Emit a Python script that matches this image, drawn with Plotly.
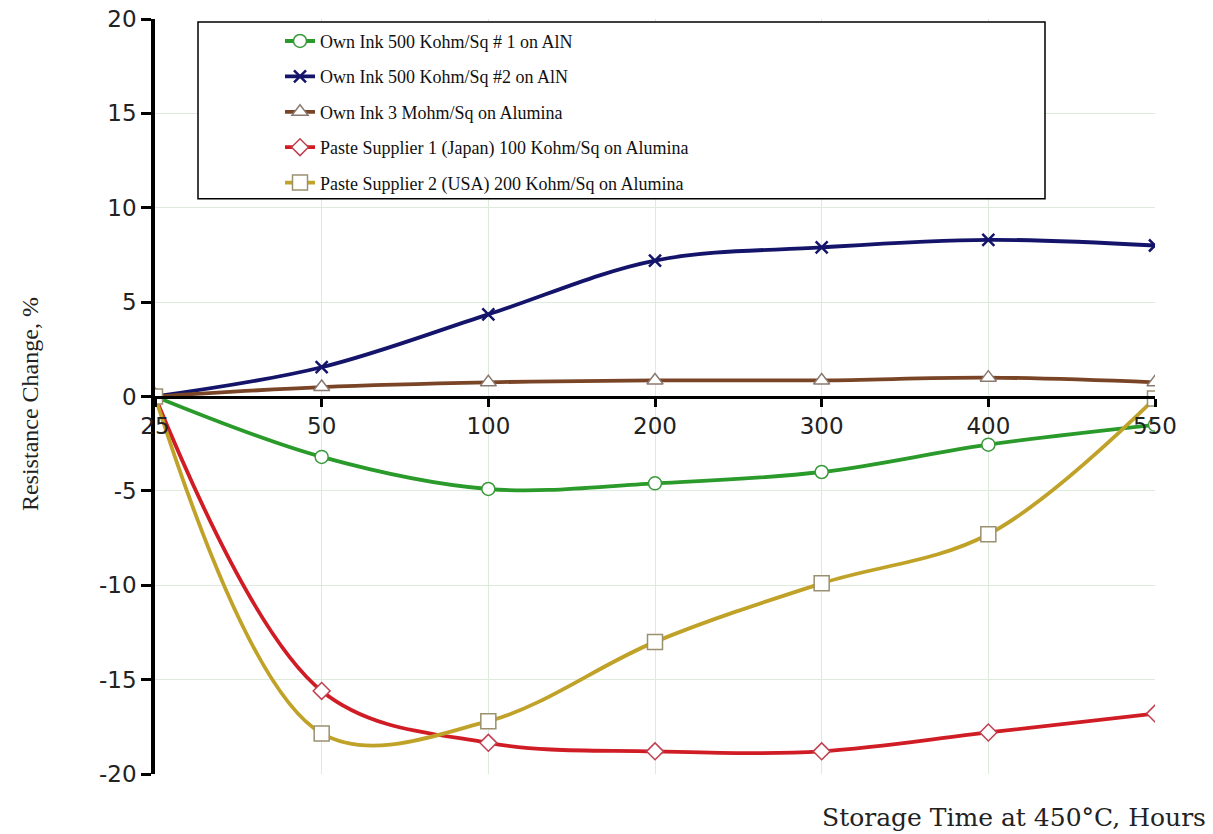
import plotly.graph_objects as go

hours = ["25", "50", "100", "200", "300", "400", "550"]
own1 = [0, -3.2, -4.9, -4.6, -4.0, -2.55, -1.5]
own2 = [0, 1.55, 4.35, 7.2, 7.9, 8.3, 8.0]
own3 = [0, 0.5, 0.75, 0.85, 0.85, 1.0, 0.75]
sup1 = [0, -15.6, -18.35, -18.8, -18.8, -17.8, -16.8]
sup2 = [0, -17.85, -17.2, -13.0, -9.9, -7.3, -0.1]

y_ticks = [-20, -15, -10, -5, 0, 5, 10, 15, 20]
y_tick_text = ["-20", "-15", "-10", "-5", "0", "5", "10", "15", "20"]

names = [
    "Own Ink 500 Kohm/Sq # 1 on AlN",
    "Own Ink 500 Kohm/Sq #2 on AlN",
    "Own Ink 3 Mohm/Sq on Alumina",
    "Paste Supplier 1 (Japan) 100 Kohm/Sq on Alumina",
    "Paste Supplier 2 (USA) 200 Kohm/Sq on Alumina",
]
series = [own1, own2, own3, sup1, sup2]
line_colors = ["#2a9a2a", "#14146a", "#7a4526", "#d01c24", "#c0a228"]
marker_lines = ["#3a9a3a", "#14146a", "#8a7a70", "#c04050", "#9a9070"]
symbols = ["circle", "x-thin-open", "triangle-up", "diamond", "square"]
msizes = [13, 12, 14, 13, 15]

fig = go.Figure()
for i, (nm, ys) in enumerate(zip(names, series)):
    is_x = symbols[i].startswith("x")
    fig.add_trace(go.Scatter(
        x=hours, y=ys, name=nm, mode="lines+markers",
        legendgroup=f"g{i}",
        line=dict(color=line_colors[i], width=3.8, shape="spline", smoothing=1.0),
        marker=dict(symbol=symbols[i], size=msizes[i],
                    color=line_colors[i] if is_x else "white",
                    line=dict(color=marker_lines[i], width=2.5 if is_x else 1.5)),
    ))

grid = "#dcebdc"
fig.update_layout(
    width=1213, height=834,
    margin=dict(l=155, r=58, t=19, b=60, autoexpand=False),
    plot_bgcolor="white", paper_bgcolor="white",
    showlegend=True,
    legend=dict(x=0.125, y=0.995, xanchor="left", yanchor="top",
                bgcolor="rgba(0,0,0,0)", borderwidth=0,
                font=dict(family="Liberation Serif", size=18, color="#111"),
                tracegroupgap=9, itemwidth=30),
    xaxis=dict(type="category", range=[0, 6], showgrid=True, gridcolor=grid, gridwidth=1,
               showline=True, linecolor="black", linewidth=3,
               anchor="free", position=0.5,
               ticks="outside", ticklen=8, tickwidth=3, tickcolor="black",
               tickfont=dict(family="DejaVu Sans", size=23, color="#222"),
               ticklabeloverflow="allow",
               zeroline=False),
    yaxis=dict(range=[-20, 20], tickvals=y_ticks, ticktext=y_tick_text,
               showgrid=True, gridcolor=grid, gridwidth=1,
               showline=True, linecolor="black", linewidth=3.5,
               ticks="outside", ticklen=10, tickwidth=3, tickcolor="black",
               tickfont=dict(family="DejaVu Sans", size=23, color="#222"),
               ticklabeloverflow="allow",
               zeroline=False),
    shapes=[dict(type="rect", xref="paper", yref="paper",
                 x0=0.043, x1=0.89, y0=0.762, y1=0.996,
                 line=dict(color="black", width=1.5), fillcolor="white", layer="above")],
    annotations=[
        dict(text="Resistance Change, %", xref="paper", yref="paper",
             x=-0.125, y=0.49, textangle=-90, showarrow=False,
             font=dict(family="Liberation Serif", size=24, color="#222"),
             xanchor="center", yanchor="middle"),
        dict(text="Storage Time at 450°C, Hours", xref="paper", yref="paper",
             x=1.053, y=-0.057, showarrow=False, xanchor="right", yanchor="middle",
             font=dict(family="DejaVu Serif", size=25, color="#222")),
    ],
)

fig.write_html("out.html", config={"displayModeBar": False},
               post_script="document.body.style.margin='0';")
